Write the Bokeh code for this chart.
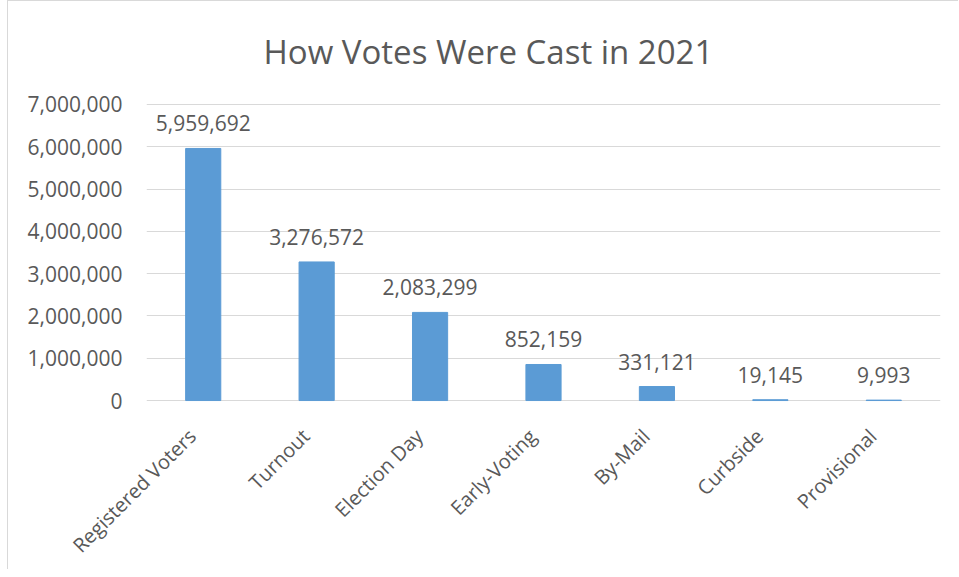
import math
from bokeh.plotting import figure
from bokeh.models import (ColumnDataSource, LabelSet, NumeralTickFormatter, FixedTicker,
                          Range1d, LinearAxis)
from bokeh.core.properties import value
from bokeh.embed import file_html
from bokeh.resources import INLINE

categories = ["Registered Voters", "Turnout", "Election Day", "Early-Voting", "By-Mail", "Curbside", "Provisional"]
votes = [5959692, 3276572, 2083299, 852159, 331121, 19145, 9993]
vote_labels = ["5,959,692", "3,276,572", "2,083,299", "852,159", "331,121", "19,145", "9,993"]
y_ticks = [0, 1000000, 2000000, 3000000, 4000000, 5000000, 6000000, 7000000]
title_text = "How Votes Were Cast in 2021"

TEXT = "#595959"
GRID = "#D9D9D9"
BAR = "#5B9BD5"
FONT = "Open Sans"

PX_PER_M = 43.0
pad = 2 / PX_PER_M * 1e6

n = len(categories)
centers = [i + 0.5 for i in range(n)]  # category slot centres on the numeric x scale
source = ColumnDataSource(dict(x=centers, cat=categories, v=votes, lab=vote_labels))

p = figure(x_range=Range1d(0, n), y_range=Range1d(-pad, 7e6 + pad), width=951, height=569,
           output_backend="svg", toolbar_location=None, title=title_text,
           min_border_left=138, min_border_right=19, min_border_top=99, min_border_bottom=165)
p.vbar(x="x", top="v", width=0.31, source=source, color=BAR)

p.add_layout(LabelSet(x="x", y="v", text="lab", source=source, text_align="center",
                      text_baseline="bottom", y_offset=17, text_color=TEXT,
                      text_font=value(FONT), text_font_size="21px"))

# category label axis on a slightly shifted twin range so the rotated labels
# end right at each bar like the reference
shift = 11 / (794 / n)
p.extra_x_ranges = {"labels": Range1d(shift, n + shift)}
lab_axis = LinearAxis(x_range_name="labels",
                      ticker=FixedTicker(ticks=centers),
                      major_label_overrides={c: name for c, name in zip(centers, categories)})
lab_axis.axis_line_color = None
lab_axis.major_tick_line_color = None
lab_axis.minor_tick_line_color = None
lab_axis.major_label_orientation = math.pi / 4
lab_axis.major_label_text_font = FONT
lab_axis.major_label_text_font_size = "20px"
lab_axis.major_label_text_color = TEXT
lab_axis.major_label_standoff = 24
p.add_layout(lab_axis, "below")

p.title.text_font = FONT
p.title.text_font_size = "33px"
p.title.text_font_style = "normal"
p.title.text_color = TEXT
p.title.align = "left"
p.title.offset = 117
p.title.standoff = 54
p.title.vertical_align = "top"

p.outline_line_color = None
p.background_fill_color = "white"
p.border_fill_color = "white"
p.xgrid.grid_line_color = None
p.ygrid.grid_line_color = GRID
p.ygrid.grid_line_width = 1
p.xaxis[0].visible = False

p.yaxis.ticker = FixedTicker(ticks=y_ticks)
p.yaxis.formatter = NumeralTickFormatter(format="0,0")
p.yaxis.axis_line_color = None
p.yaxis.major_tick_line_color = None
p.yaxis.minor_tick_line_color = None
p.yaxis.major_label_text_font = FONT
p.yaxis.major_label_text_font_size = "21px"
p.yaxis.major_label_text_color = TEXT
p.yaxis.major_label_standoff = 18

p.styles = {"border-left": "1px solid #D9D9D9", "border-top": "1px solid #D9D9D9", "margin-left": "7px"}

open("out.html", "w").write(file_html(p, INLINE))
